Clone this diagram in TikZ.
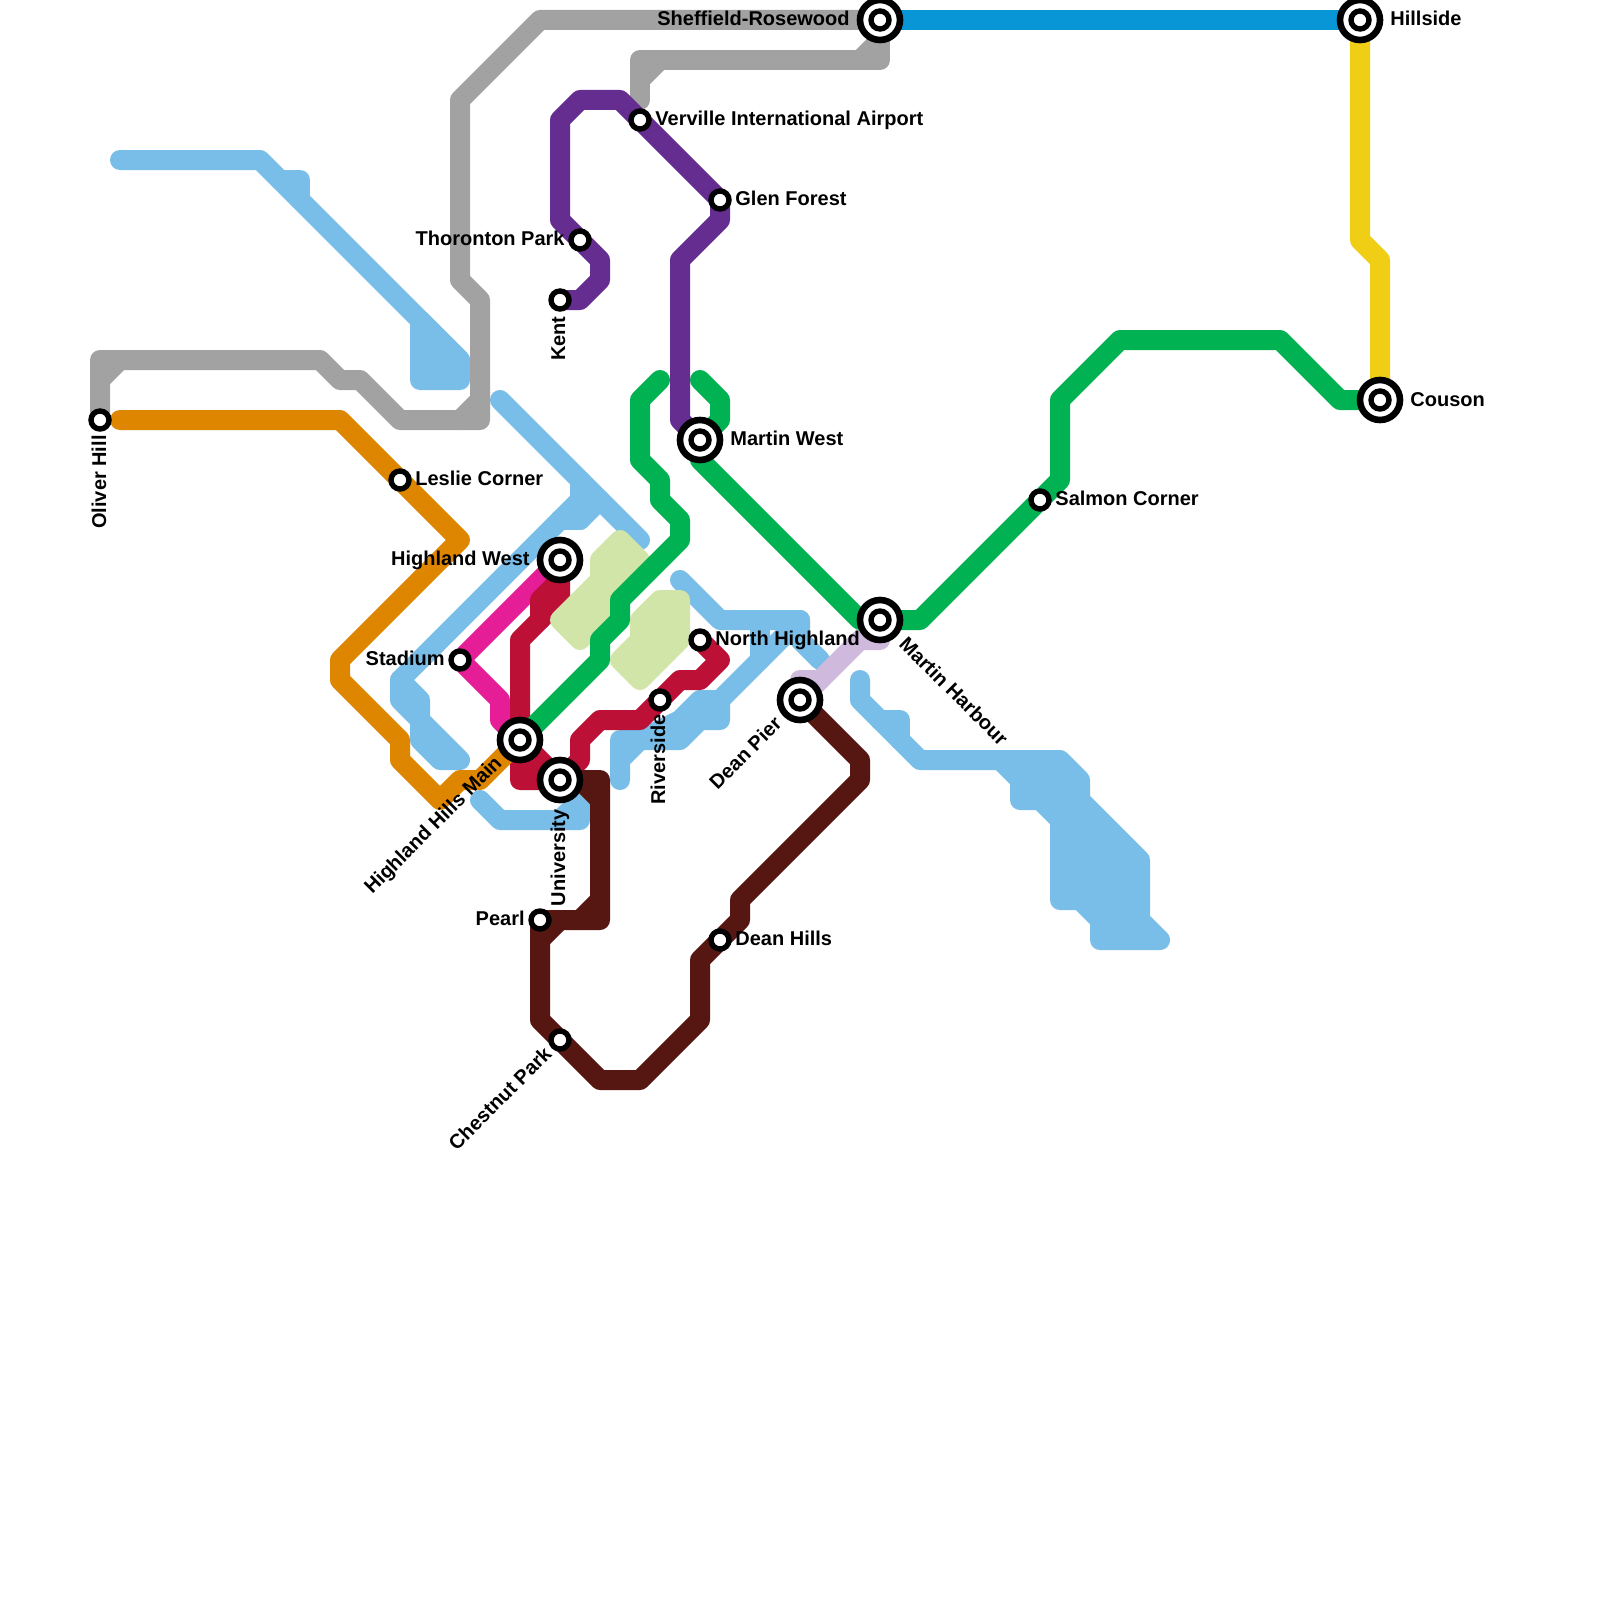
\documentclass[tikz,border=0pt]{standalone}
\usepackage{fontspec}
\setmainfont{Liberation Sans}
\definecolor{csky}{HTML}{79BDE9}
\definecolor{cgray}{HTML}{A2A2A2}
\definecolor{cbrown}{HTML}{561712}
\definecolor{cgreen}{HTML}{00B251}
\definecolor{cpurple}{HTML}{662D91}
\definecolor{corange}{HTML}{DF8600}
\definecolor{ccrimson}{HTML}{BC1037}
\definecolor{cpink}{HTML}{E51E97}
\definecolor{cyellow}{HTML}{F0CE15}
\definecolor{cblue}{HTML}{0896D7}
\definecolor{clilac}{HTML}{CFBADE}
\definecolor{cpale}{HTML}{D1E5A8}
\tikzset{
  metro/.style={line width=10pt,line cap=round,line join=round},
  blob/.style={metro,draw=#1,fill=#1},
  stationring/.style={circle,draw=black,fill=white,line width=2.7pt,minimum size=9pt,inner sep=0pt,outer sep=0pt},
  hubring/.style={circle,draw=black,fill=white,line width=3.3pt,minimum size=20pt,inner sep=0pt,outer sep=0pt},
  lab/.style={font=\fontsize{10pt}{12pt}\selectfont\bfseries,inner sep=0pt,text=black,text height=7.2pt,text depth=0pt},
}
\begin{document}
\begin{tikzpicture}[x=0.5pt,y=-0.5pt]
\useasboundingbox (0,0) rectangle (1600,1600);
\fill[white] (0,0) rectangle (1600,1600);
% station positions
\coordinate (sheffield) at (880,20);
\coordinate (hillside) at (1360,20);
\coordinate (couson) at (1380,400);
\coordinate (verville) at (640,120);
\coordinate (glen) at (720,200);
\coordinate (thoronton) at (580,240);
\coordinate (kent) at (560,300);
\coordinate (martinw) at (700,440);
\coordinate (oliver) at (100,420);
\coordinate (leslie) at (400,480);
\coordinate (hwest) at (560,560);
\coordinate (stadium) at (460,660);
\coordinate (salmon) at (1040,500);
\coordinate (martinh) at (880,620);
\coordinate (nhighland) at (700,640);
\coordinate (riverside) at (660,700);
\coordinate (deanpier) at (800,700);
\coordinate (hhmain) at (520,740);
\coordinate (university) at (560,780);
\coordinate (pearl) at (540,920);
\coordinate (deanhills) at (720,940);
\coordinate (chestnut) at (560,1040);
% sky blue
\draw[metro,csky] (120,160) -- (260,160) -- (460,360);
\draw[metro,csky] (280,180) -- (300,180) -- (300,200);
\draw[blob=csky] (420,320) -- (460,360) -- (460,380) -- (420,380) -- cycle;
\draw[metro,csky] (500,400) -- (640,540);
\draw[metro,csky] (580,480) -- (580,520) -- (560,520);
\draw[metro,csky] (600,500) -- (580,520);
\draw[metro,csky] (580,500) -- (400,680) -- (420,700) -- (420,720);
\draw[metro,csky] (400,680) -- (400,700) -- (420,720);
\draw[blob=csky] (420,720) -- (460,760) -- (440,760) -- (420,740) -- cycle;
\draw[metro,csky] (480,800) -- (500,820) -- (580,820) -- (580,800) -- (560,780);
\draw[metro,csky] (560,820) -- (580,800);
\draw[metro,csky] (620,780) -- (620,740) -- (680,740) -- (700,720) -- (720,720) -- (720,700) -- (700,700) -- (680,720) -- (640,740) -- (620,760);
\draw[metro,csky] (720,700) -- (800,620);
\draw[metro,csky] (680,580) -- (720,620) -- (800,620) -- (800,640) -- (820,660);
\draw[metro,csky] (760,620) -- (760,660);
\draw[metro,csky] (860,680) -- (860,700) -- (920,760) -- (1040,760);
\draw[metro,csky] (880,720) -- (900,720) -- (900,740);
\draw[blob=csky] (1000,760) -- (1060,760) -- (1080,780) -- (1080,800) -- (1140,860) -- (1140,920) -- (1160,940) -- (1100,940) -- (1100,920) -- (1080,900) -- (1060,900) -- (1060,820) -- (1040,800) -- (1020,800) -- (1020,780) -- cycle;
% pink and crimson
\draw[metro,cpink] (hwest) -- (stadium) -- (500,700) -- (500,720) -- (hhmain);
\draw[blob=ccrimson] (hhmain) -- (university) -- (520,780) -- cycle;
\draw[metro,ccrimson] (hwest) -- (560,600) -- (520,640) -- (hhmain);
\draw[metro,ccrimson] (560,580) -- (540,600) -- (540,620);
\draw[metro,ccrimson] (university) -- (580,760) -- (580,740) -- (600,720) -- (640,720) -- (riverside) -- (680,680) -- (700,680) -- (720,660) -- (nhighland);
% pale green
\draw[blob=cpale] (620,540) -- (640,560) -- (600,600) -- (600,620) -- (580,640) -- (560,620) -- (600,580) -- (600,560) -- cycle;
\draw[blob=cpale] (660,600) -- (680,600) -- (680,640) -- (640,680) -- (620,660) -- (640,640) -- (640,620) -- cycle;
% orange
\draw[metro,corange] (120,420) -- (340,420) -- (leslie) -- (460,540) -- (340,660) -- (340,680) -- (400,740) -- (400,760) -- (440,800) -- (460,780) -- (480,780) -- (hhmain);
% green
\draw[metro,cgreen] (660,380) -- (640,400) -- (640,460) -- (660,480) -- (660,500) -- (680,520) -- (680,540) -- (620,600) -- (620,620) -- (600,640) -- (600,660) -- (hhmain);
\draw[metro,cgreen] (700,380) -- (720,400) -- (720,420) -- (martinw) -- (700,460) -- (860,620) -- (martinh) -- (920,620) -- (salmon) -- (1060,480) -- (1060,400) -- (1120,340) -- (1280,340) -- (1340,400) -- (couson);
% gray
\draw[metro,cgray] (sheffield) -- (540,20) -- (460,100) -- (460,280) -- (480,300) -- (480,420) -- (400,420) -- (360,380) -- (340,380) -- (320,360) -- (100,360) -- (oliver);
\draw[metro,cgray] (100,380) -- (120,360);
\draw[metro,cgray] (460,420) -- (480,400);
\draw[metro,cgray] (sheffield) -- (880,60) -- (640,60) -- (640,100);
\draw[metro,cgray] (640,80) -- (660,60);
\draw[metro,cgray] (860,60) -- (880,40);
% purple
\draw[metro,cpurple] (kent) -- (580,300) -- (600,280) -- (600,260) -- (thoronton) -- (560,220) -- (560,120) -- (580,100) -- (620,100) -- (verville) -- (glen) -- (720,220) -- (680,260) -- (680,420) -- (martinw);
% lilac
\draw[metro,clilac] (deanpier) -- (800,680) -- (820,680) -- (860,640) -- (880,640) -- (martinh);
\draw[metro,clilac] (deanpier) -- (820,680);
% brown
\draw[metro,cbrown] (deanpier) -- (860,760) -- (860,780) -- (740,900) -- (740,920) -- (deanhills) -- (700,960) -- (700,1020) -- (640,1080) -- (600,1080) -- (chestnut) -- (540,1020) -- (pearl) -- (600,920) -- (600,780) -- (university);
\draw[metro,cbrown] (580,780) -- (600,800);
\draw[metro,cbrown] (600,900) -- (580,920);
\draw[metro,cbrown] (540,940) -- (560,920);
% blue and yellow
\draw[metro,cblue] (sheffield) -- (hillside);
\draw[metro,cyellow] (hillside) -- (1360,240) -- (1380,260) -- (couson);
% interchange stations
\foreach \n in {sheffield,hillside,couson,martinw,hwest,martinh,deanpier,hhmain,university}{
  \node[hubring] (\n-hub) at (\n) {};
  \node[stationring] (\n-dot) at (\n) {};
}
\foreach \n in {verville,glen,thoronton,kent,oliver,leslie,stadium,salmon,nhighland,riverside,pearl,deanhills,chestnut}{
  \node[stationring] (\n-dot) at (\n) {};
}
% labels
\node[lab,anchor=east] (l-sheffield) at (850,18) {Sheffield-Rosewood};
\node[lab,anchor=west] (l-hillside) at (1390,18) {Hillside};
\node[lab,anchor=west] (l-couson) at (1410,399) {Couson};
\node[lab,anchor=west] (l-verville) at (655,118) {Verville International Airport};
\node[lab,anchor=west] (l-glen) at (735,198) {Glen Forest};
\node[lab,anchor=east] (l-thoronton) at (565,238) {Thoronton Park};
\node[lab,anchor=east,rotate=90] (l-kent) at (558,316) {Kent};
\node[lab,anchor=west] (l-martinw) at (730,438) {Martin West};
\node[lab,anchor=west] (l-leslie) at (415,478) {Leslie Corner};
\node[lab,anchor=east] (l-hwest) at (530,558) {Highland West};
\node[lab,anchor=east] (l-stadium) at (445,658) {Stadium};
\node[lab,anchor=west] (l-salmon) at (1055,498) {Salmon Corner};
\node[lab,anchor=west,rotate=-45] (l-martinh) at (903,640) {Martin Harbour};
\node[lab,anchor=west] (l-nhighland) at (715,638) {North Highland};
\node[lab,anchor=east,rotate=90] (l-riverside) at (658,714) {Riverside};
\node[lab,anchor=east,rotate=45] (l-deanpier) at (778,720) {Dean Pier};
\node[lab,anchor=east,rotate=45] (l-hhmain) at (498,759) {Highland Hills Main};
\node[lab,anchor=east,rotate=90] (l-university) at (558,809) {University};
\node[lab,anchor=east] (l-pearl) at (525,918) {Pearl};
\node[lab,anchor=west] (l-deanhills) at (735,938) {Dean Hills};
\node[lab,anchor=east,rotate=45] (l-chestnut) at (548,1050) {Chestnut Park};
\node[lab,anchor=east,rotate=90] (l-oliver) at (99,435) {Oliver Hill};
\end{tikzpicture}
\end{document}
